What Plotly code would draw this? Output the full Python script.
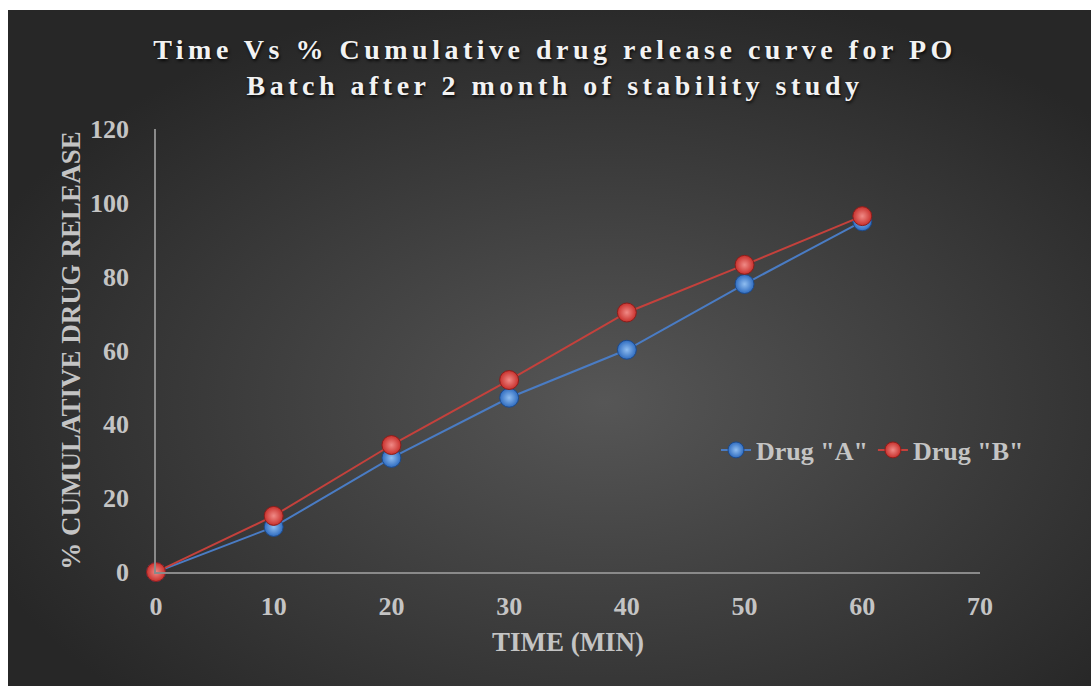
import base64
import plotly.graph_objects as go

# ---- data ----
time_min = [0, 10, 20, 30, 40, 50, 60]
drug_a = [0, 12.2, 30.9, 47.2, 60.2, 78.0, 95.0]
drug_b = [0, 15.2, 34.4, 52.0, 70.3, 83.2, 96.4]
series_names = ['Drug "A"', 'Drug "B"']
x_ticks = [0, 10, 20, 30, 40, 50, 60, 70]
y_ticks = [0, 20, 40, 60, 80, 100, 120]

W, H = 1091, 686
L, R, T, B = 156, 111, 129, 114
pw, ph = W - L - R, H - T - B

svg = (
    '<svg xmlns="http://www.w3.org/2000/svg" width="1083" height="676" viewBox="0 0 1083 676" preserveAspectRatio="none">'
    '<defs><radialGradient id="g" cx="55%" cy="58%" r="62%">'
    '<stop offset="0%" stop-color="#565656"/>'
    '<stop offset="100%" stop-color="#272727"/>'
    '</radialGradient></defs>'
    '<rect width="1083" height="676" fill="url(#g)"/></svg>'
)
src = "data:image/svg+xml;base64," + base64.b64encode(svg.encode()).decode()

font_family = "Liberation Serif, Times New Roman, serif"
txt_col = "#c4c4c4"

fig = go.Figure()
fig.add_trace(go.Scatter(
    x=time_min, y=drug_a, name=series_names[0], mode="lines+markers",
    line=dict(color="#4a7cc4", width=2),
    marker=dict(size=19, color="#2f6cc0",
                gradient=dict(type="radial", color="#8fbdf0"),
                line=dict(color="#1d4a8a", width=1)),
    cliponaxis=False,
))
fig.add_trace(go.Scatter(
    x=time_min, y=drug_b, name=series_names[1], mode="lines+markers",
    line=dict(color="#c4413c", width=2),
    marker=dict(size=19, color="#c8302c",
                gradient=dict(type="radial", color="#f08a86"),
                line=dict(color="#8a1e1b", width=1)),
    cliponaxis=False,
))

fig.update_layout(
    width=W, height=H,
    margin=dict(l=L, r=R, t=T, b=B),
    paper_bgcolor="white",
    plot_bgcolor="rgba(0,0,0,0)",
    images=[dict(source=src, xref="paper", yref="paper",
                 x=(8 - L) / pw, y=(H - B - 10) / ph,
                 sizex=(W - 8) / pw, sizey=(H - 10) / ph,
                 xanchor="left", yanchor="top", sizing="stretch", layer="below")],
    title=dict(
        text='<span style="letter-spacing:4.5px">Time Vs % Cumulative drug release curve for PO</span><br>'
             '<span style="letter-spacing:4.5px">Batch after 2 month of stability study</span>',
        x=555 / W, xref="container", xanchor="center",
        y=1 - 59 / H, yref="container", yanchor="top",
        font=dict(family=font_family, size=28, color="#f2f2f2", weight="bold",
                  shadow="1px 2px 3px rgba(0,0,0,0.8)"),
    ),
    font=dict(family=font_family, color=txt_col, weight="bold"),
    xaxis=dict(
        range=[0, 70], tickvals=x_ticks, showgrid=False, zeroline=False,
        showline=True, linecolor="#8a8a8a", linewidth=1.5,
        ticks="", ticklabelstandoff=10,
        tickfont=dict(family=font_family, size=26, color=txt_col, weight="bold"),
        title=dict(text="TIME (MIN)", standoff=12,
                   font=dict(family=font_family, size=27, color=txt_col, weight="bold")),
    ),
    yaxis=dict(
        range=[0, 120], tickvals=y_ticks, showgrid=False, zeroline=False,
        showline=True, linecolor="#8a8a8a", linewidth=1.5,
        ticks="", ticklabelstandoff=20,
        tickfont=dict(family=font_family, size=26, color=txt_col, weight="bold"),
        title=dict(text="% CUMULATIVE DRUG RELEASE", standoff=2,
                   font=dict(family=font_family, size=27, color=txt_col, weight="bold")),
    ),
    legend=dict(
        orientation="h", x=(716 - L) / pw, y=(572 - 450) / ph,
        xanchor="left", yanchor="middle", bgcolor="rgba(0,0,0,0)",
        font=dict(family=font_family, size=26, color=txt_col, weight="bold"),
        itemwidth=30,
    ),
    showlegend=True,
)

fig.write_html("out.html")
